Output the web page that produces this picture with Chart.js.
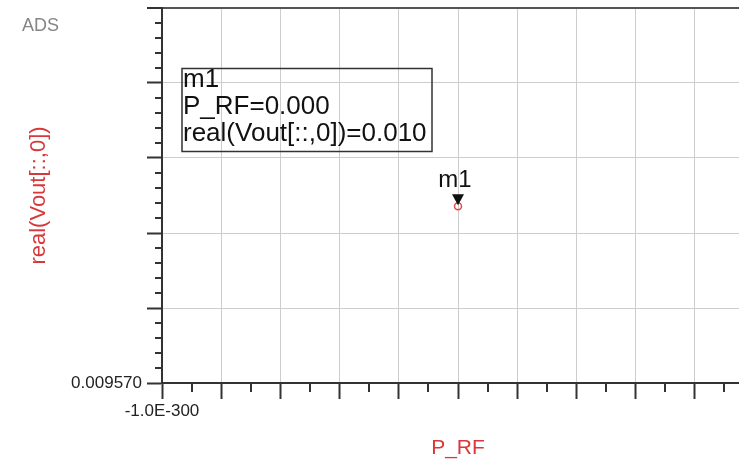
<!DOCTYPE html>
<html>
<head>
<meta charset="utf-8">
<title>ADS plot - real(Vout[::,0]) vs P_RF</title>
<script src="https://cdn.jsdelivr.net/npm/chart.js@4.4.1/dist/chart.umd.min.js"></script>
<style>
  body { margin: 0; background: #fff; overflow: hidden; }
  #wrap { width: 739px; height: 462px; overflow: hidden; }
</style>
</head>
<body>
<div id="wrap">
  <canvas id="adsChart" width="770" height="462"></canvas>
</div>
<script>
// data (P_RF axis is in units of 1E-300)
const pRF = [0];
const vout = [0.009994];
const markerNames = ['m1'];

// axis limits and tick labels
const xMin = -1, xMax = 1, xStep = 0.2;
const yMin = 0.00957, yMax = 0.01047, yStep = 0.00018;
const xTickLabels = ['-1.0E-300', '', '', '', '', '', '', '', '', '', ''];
const yTickLabels = ['0.009570', '', '', '', '', ''];

const RED = '#d8383a';
const AXIS = '#333333';
const GRID = '#cdcdcd';

// minor tick marks between major ticks (ADS style)
const minorTicks = {
  id: 'minorTicks',
  afterDraw(chart) {
    const ctx = chart.ctx;
    const area = chart.chartArea;
    const xs = chart.scales.x, ys = chart.scales.y;
    ctx.save();
    ctx.strokeStyle = AXIS;
    ctx.lineWidth = 2;
    ctx.beginPath();
    for (let i = 1; i < ys.ticks.length; i++) {
      const a = ys.ticks[i - 1].value, b = ys.ticks[i].value;
      for (let k = 1; k < 5; k++) {
        const py = Math.round(ys.getPixelForValue(a + (b - a) * k / 5));
        ctx.moveTo(area.left - 7, py);
        ctx.lineTo(area.left, py);
      }
    }
    for (let i = 1; i < xs.ticks.length; i++) {
      const a = xs.ticks[i - 1].value, b = xs.ticks[i].value;
      const px = Math.round(xs.getPixelForValue((a + b) / 2));
      ctx.moveTo(px, area.bottom);
      ctx.lineTo(px, area.bottom + 9);
    }
    ctx.stroke();
    ctx.restore();
  }
};

// marker triangle, marker name and the readout box
const markerPlugin = {
  id: 'markerPlugin',
  afterDraw(chart) {
    const ctx = chart.ctx;
    const pt = chart.getDatasetMeta(0).data[0];
    const px = pt.x, py = pt.y;
    ctx.save();

    // "ADS" logo text
    ctx.fillStyle = '#858585';
    ctx.font = '18px "Liberation Sans", Arial, sans-serif';
    ctx.textBaseline = 'alphabetic';
    ctx.fillText('ADS', 22, 31);

    // triangle pointing at the marker
    ctx.fillStyle = '#111';
    ctx.beginPath();
    ctx.moveTo(px - 6, py - 12);
    ctx.lineTo(px + 6, py - 12);
    ctx.lineTo(px, py - 1);
    ctx.closePath();
    ctx.fill();

    ctx.font = '24px "Liberation Sans", Arial, sans-serif';
    ctx.textAlign = 'center';
    ctx.fillText(markerNames[0], px - 3, py - 19);

    // readout box
    const lines = [
      markerNames[0],
      'P_RF=' + pRF[0].toFixed(3),
      'real(Vout[::,0])=' + vout[0].toFixed(3)
    ];
    ctx.strokeStyle = AXIS;
    ctx.lineWidth = 1.5;
    ctx.strokeRect(182, 68.5, 250, 83);
    ctx.textAlign = 'left';
    ctx.font = '26px "Liberation Sans", Arial, sans-serif';
    lines.forEach((t, i) => ctx.fillText(t, 183, 87 + i * 27));
    ctx.restore();
  }
};

const ctx = document.getElementById('adsChart').getContext('2d');
const adsChart = new Chart(ctx, {
  type: 'scatter',
  data: {
    datasets: [{
      label: 'real(Vout[::,0])',
      data: pRF.map((p, i) => ({ x: p, y: vout[i] })),
      pointStyle: 'circle',
      pointRadius: 3.5,
      pointBorderWidth: 1.5,
      borderColor: '#e04848',
      backgroundColor: 'rgba(0,0,0,0)'
    }]
  },
  options: {
    responsive: false,
    animation: false,
    devicePixelRatio: 1,
    layout: { padding: { left: 0, top: 8, right: 16, bottom: 0 } },
    plugins: {
      legend: { display: false },
      tooltip: { enabled: false }
    },
    scales: {
      x: {
        type: 'linear',
        min: xMin,
        max: xMax,
        afterFit: (scale) => {
          scale.height = 79;
          scale.paddingLeft = 0;
          scale.paddingRight = 0;
        },
        grid: {
          color: GRID,
          lineWidth: 1,
          tickLength: 16,
          tickColor: AXIS,
          tickWidth: 2
        },
        border: { display: true, color: AXIS, width: 2 },
        ticks: {
          stepSize: xStep,
          autoSkip: false,
          maxRotation: 0,
          padding: 2,
          color: '#222',
          font: { family: '"Liberation Sans", Arial, sans-serif', size: 17 },
          callback: (value, index) => xTickLabels[index] || ''
        },
        title: {
          display: true,
          text: 'P_RF',
          color: RED,
          font: { family: '"Liberation Sans", Arial, sans-serif', size: 21 },
          padding: { top: 0, bottom: 1 }
        }
      },
      y: {
        type: 'linear',
        min: yMin,
        max: yMax,
        afterFit: (scale) => {
          scale.width = 162;
          scale.paddingTop = 0;
          scale.paddingBottom = 0;
        },
        grid: {
          color: (c) => (c.index === yTickLabels.length - 1 ? '#555' : GRID),
          lineWidth: (c) => (c.index === yTickLabels.length - 1 ? 2 : 1),
          tickLength: 15,
          tickColor: AXIS,
          tickWidth: 2
        },
        border: { display: true, color: AXIS, width: 2 },
        ticks: {
          stepSize: yStep,
          autoSkip: false,
          padding: 5,
          color: '#222',
          font: { family: '"Liberation Sans", Arial, sans-serif', size: 17 },
          callback: (value, index) => yTickLabels[index] || ''
        },
        title: {
          display: true,
          text: 'real(Vout[::,0])',
          color: RED,
          font: { family: '"Liberation Sans", Arial, sans-serif', size: 22 },
          padding: { top: 26, bottom: 0 }
        }
      }
    }
  },
  plugins: [minorTicks, markerPlugin]
});
</script>
</body>
</html>
